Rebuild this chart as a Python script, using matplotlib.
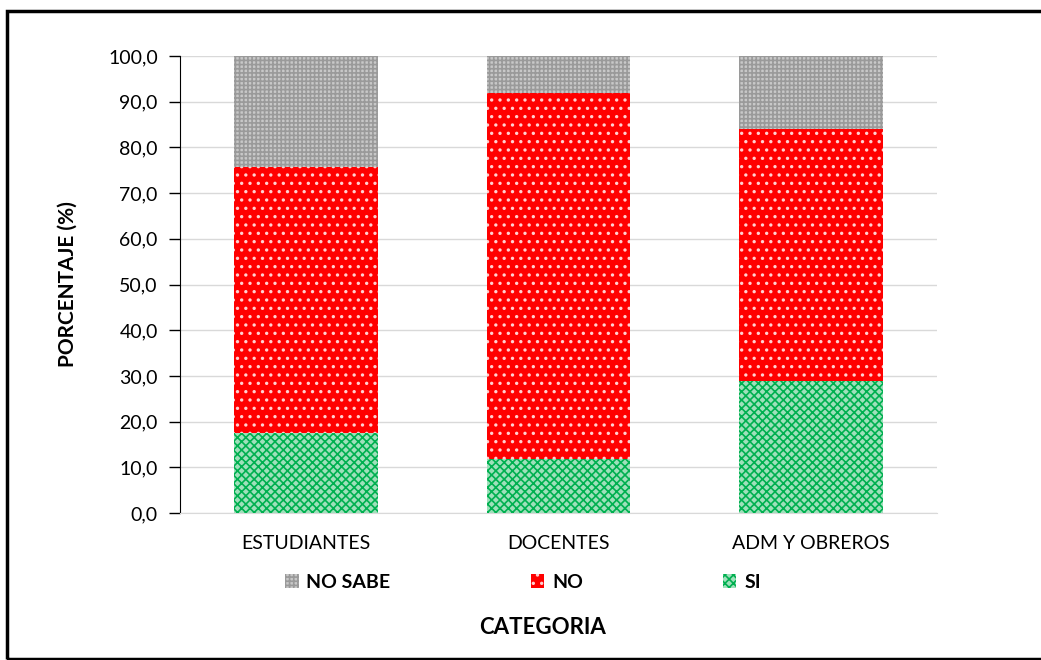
import matplotlib.pyplot as plt
import matplotlib.patches as mpatches
import numpy as np

plt.rcParams['font.family'] = ['Lato', 'DejaVu Sans']
plt.rcParams['hatch.linewidth'] = 1.2

categorias = ['ESTUDIANTES', 'DOCENTES', 'ADM Y OBREROS']
si = [17.5, 11.8, 28.9]
no = [58.2, 80.1, 55.1]
no_sabe = [24.3, 8.1, 16.0]

fig = plt.figure(figsize=(10.41, 6.6), dpi=100)
ax = fig.add_axes([180 / 1041, 1 - 513 / 660, 757 / 1041, 457 / 660])

x = np.arange(len(categorias))
w = 0.57
si_arr = np.array(si)
no_arr = np.array(no)

# colores y tramas de cada serie
c_si = dict(color='#9fe0bb', edgecolor='#00b050', hatch='xxxx')
c_no = dict(color='#ff0000', edgecolor='#ffd0d0', hatch='..')
c_ns = dict(color='#c8c8c8', edgecolor='#9a9a9a', hatch='++++')

ax.bar(x, si, w, linewidth=0, zorder=3, **c_si)
ax.bar(x, no, w, bottom=si_arr, linewidth=0, zorder=3, **c_no)
ax.bar(x, no_sabe, w, bottom=si_arr + no_arr, linewidth=0, zorder=3, **c_ns)

ax.set_xlim(-0.5, 2.5)
ax.set_ylim(0, 100)
ax.set_yticks(np.arange(0, 101, 10))
ax.set_yticklabels([f'{v:.1f}'.replace('.', ',') for v in np.arange(0, 101, 10)], fontsize=14)
ax.set_xticks(x)
ax.set_xticklabels(categorias, fontsize=14)
ax.tick_params(axis='x', length=0, pad=16)
ax.tick_params(axis='y', length=8, width=1, pad=8, direction='out')
ax.grid(axis='y', color='#d9d9d9', linewidth=1, zorder=0)
for s in ['top', 'right']:
    ax.spines[s].set_visible(False)
ax.spines['bottom'].set_color('#d9d9d9')
ax.spines['left'].set_color('black')

ax.set_ylabel('PORCENTAJE (%)', fontsize=15, fontweight='bold', labelpad=22)

handles = [
    mpatches.Patch(facecolor=c_ns['color'], edgecolor=c_ns['edgecolor'], hatch=c_ns['hatch'], linewidth=0, label='NO SABE'),
    mpatches.Patch(facecolor=c_no['color'], edgecolor=c_no['edgecolor'], hatch=c_no['hatch'], linewidth=0, label='NO'),
    mpatches.Patch(facecolor=c_si['color'], edgecolor=c_si['edgecolor'], hatch=c_si['hatch'], linewidth=0, label='SI'),
]
leg = fig.legend(handles=handles, loc='center', bbox_to_anchor=(523 / 1041, 1 - 582 / 660), ncol=3,
                 frameon=False, columnspacing=7.2, handlelength=0.7, handleheight=0.7, handletextpad=0.4,
                 prop={'weight': 'bold', 'size': 14})

fig.text(543 / 1041, 1 - 628 / 660, 'CATEGORIA', ha='center', va='center', fontsize=16, fontweight='bold')

fig.patches.append(mpatches.Rectangle((7 / 1041, 1 / 660), 1.1, 1 - 12 / 660, transform=fig.transFigure,
                                      fill=False, edgecolor='black', linewidth=2.5))

fig.savefig('out.png', dpi=100)
